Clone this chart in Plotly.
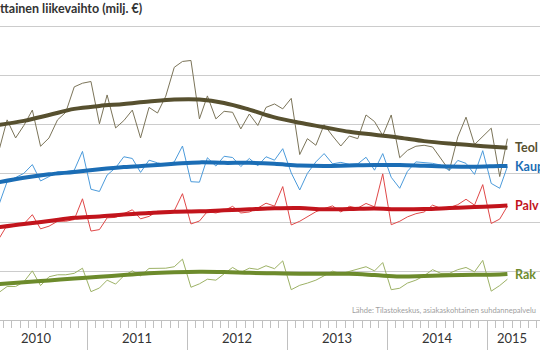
import plotly.graph_objects as go
import pandas as pd

# Monthly data Feb 2010 .. Mar 2015 (milj. €)
months = pd.date_range("2010-02-01", periods=62, freq="MS") + pd.Timedelta(days=14)

teol = [7010, 8190, 7450, 7960, 8590, 7110, 7450, 8190, 8500, 9540, 9690, 9760,
        8030, 9210, 7860, 8160, 8590, 7450, 8700, 8470, 9160, 10340, 10580, 10620,
        8230, 9170, 8230, 8540, 8500, 7820, 8430, 7960, 8700, 8840, 8640, 9070,
        6770, 7420, 7150, 7990, 7530, 7120, 7530, 7420, 8390, 8120, 7550, 8390,
        6640, 6940, 7110, 7150, 7080, 6610, 6120, 7490, 8300, 7180, 7490, 7850,
        5870, 7420]
kaup = [4780, 5660, 5830, 6000, 6360, 5690, 5870, 6070, 6070, 6130, 6900, 5350,
        5260, 5930, 6230, 6680, 6610, 6040, 6540, 6430, 6360, 6470, 7120, 5660,
        5640, 6640, 6300, 6700, 6650, 6280, 6610, 6310, 6680, 6540, 7010, 6020,
        5320, 6000, 6470, 6810, 6390, 6450, 6370, 6390, 6660, 6130, 6810, 5840,
        5390, 6080, 6470, 6450, 6410, 6340, 6120, 6530, 6410, 5960, 6930, 5590,
        5390, 6280]
palv = [3360, 3880, 3900, 3930, 4310, 3730, 3840, 4040, 4040, 4110, 4960, 3640,
        3700, 4180, 4200, 4340, 4510, 4140, 4240, 4450, 4470, 4470, 5170, 3930,
        4050, 4440, 4380, 4480, 4650, 4380, 4420, 4580, 4780, 4660, 5460, 3890,
        4040, 4220, 4430, 4560, 4670, 4420, 4650, 4580, 4770, 4630, 5980, 3900,
        4040, 4220, 4350, 4420, 4700, 4570, 4600, 4720, 4940, 4700, 5540, 3950,
        4130, 4660]
rak = [1140, 1370, 1370, 1560, 2010, 1410, 1770, 1850, 1850, 1910, 2120, 1160,
       1310, 1630, 1470, 1810, 2010, 1810, 2110, 2110, 2120, 2180, 2490, 1340,
       1480, 1670, 1630, 1890, 2150, 1950, 2120, 2070, 2220, 2100, 2420, 1240,
       1420, 1510, 1630, 1810, 2000, 1890, 1980, 2100, 2180, 2010, 2350, 1240,
       1300, 1510, 1630, 1810, 2060, 1910, 1910, 2060, 2150, 1970, 2440, 1180,
       1410, 1670]

# Trend series (read at quarterly points)
trend_months = ["2010-02-15", "2010-05-15", "2010-08-15", "2010-11-15",
                "2011-02-15", "2011-05-15", "2011-08-15", "2011-11-15",
                "2012-02-15", "2012-05-15", "2012-08-15", "2012-11-15",
                "2013-02-15", "2013-05-15", "2013-08-15", "2013-11-15",
                "2014-02-15", "2014-05-15", "2014-08-15", "2014-11-15",
                "2015-02-15", "2015-03-15"]
teol_tr = [7990, 8150, 8390, 8640, 8760, 8840, 8940, 9020, 9020, 8880, 8610,
           8290, 8070, 7890, 7700, 7580, 7460, 7320, 7220, 7140, 7070, 7050]
kaup_tr = [5640, 5820, 5960, 6060, 6170, 6260, 6320, 6390, 6450, 6430, 6430,
           6390, 6320, 6300, 6320, 6340, 6340, 6310, 6280, 6270, 6300, 6300]
palv_tr = [3800, 3930, 4050, 4180, 4240, 4320, 4380, 4430, 4450, 4490, 4530,
           4570, 4580, 4530, 4540, 4560, 4530, 4540, 4580, 4620, 4670, 4690]
rak_tr = [1470, 1540, 1620, 1700, 1770, 1840, 1910, 1950, 1970, 1960, 1930,
          1910, 1890, 1890, 1890, 1840, 1780, 1800, 1830, 1850, 1860, 1880]

names = ["Teol", "Kaup", "Palv", "Rak"]
thin_colors = ["#7b7459", "#4c9bdb", "#e04848", "#9db266"]
thick_colors = ["#57502f", "#1b6db5", "#c2141c", "#6d8b2c"]

year_labels = ["2010", "2011", "2012", "2013", "2014", "2015"]
year_label_pos = ["2010-07-02", "2011-07-02", "2012-07-02", "2013-07-02",
                  "2014-07-02", "2015-04-02"]
year_ticks = ["2010-01-01", "2011-01-01", "2012-01-01", "2013-01-01",
              "2014-01-01", "2015-01-01"]
grid_vals = [2000, 4000, 6000, 8000, 10000, 12000]

fig = go.Figure()
series = [teol, kaup, palv, rak]
trends = [teol_tr, kaup_tr, palv_tr, rak_tr]
for s, c in zip(series, thin_colors):
    fig.add_trace(go.Scatter(x=months, y=s, mode="lines",
                             line=dict(color=c, width=1), hoverinfo="skip"))
for s, c in zip(trends, thick_colors):
    fig.add_trace(go.Scatter(x=trend_months, y=s, mode="lines",
                             line=dict(color=c, width=4, shape="spline", smoothing=1.0),
                             hoverinfo="skip"))

font_family = "Lato, 'Open Sans', sans-serif"
annotations = []
for n, s, c in zip(names, trends, thick_colors):
    annotations.append(dict(x=trend_months[-1], y=s[-1], xref="x", yref="y",
                            text="<b>" + n + "</b>", showarrow=False,
                            xanchor="left", yanchor="middle", xshift=6,
                            font=dict(family=font_family, size=12.5, color=c)))
for lab, pos in zip(year_labels, year_label_pos):
    annotations.append(dict(x=pos, y=0, xref="x", yref="paper", text=lab,
                            showarrow=False, xanchor="center", yanchor="middle",
                            yshift=-18,
                            font=dict(family=font_family, size=13, color="#333333")))
annotations.append(dict(x=0, y=1, xref="paper", yref="paper",
                        text="<b>ttainen liikevaihto (milj. €)</b>", showarrow=False,
                        xanchor="left", yanchor="top", yshift=1, xshift=-2,
                        font=dict(family=font_family, size=12.5, color="#333333")))
annotations.append(dict(x=0.9963, y=10 / 323, xref="paper", yref="paper",
                        text="Lähde: Tilastokeskus, asiakaskohtainen suhdannepalvelu",
                        showarrow=False, xanchor="right", yanchor="middle",
                        font=dict(family=font_family, size=7.5, color="#a0a0a0")))

fig.update_layout(
    width=540, height=350,
    margin=dict(l=0, r=0, t=0, b=27),
    paper_bgcolor="white", plot_bgcolor="white",
    showlegend=False,
    annotations=annotations,
    xaxis=dict(type="date", range=["2010-02-17", "2015-07-12"],
               tickvals=year_ticks, showticklabels=False,
               ticks="outside", ticklen=30, tickcolor="#c0c0c0", tickwidth=1,
               showgrid=False, showline=True, linecolor="#c0c0c0", linewidth=1,
               zeroline=False,
               minor=dict(ticks="outside", ticklen=7, dtick="M1",
                          tick0="2010-01-01", tickcolor="#c0c0c0", tickwidth=1,
                          showgrid=False)),
    yaxis=dict(range=[0, 13095], tickvals=grid_vals, showticklabels=False,
               showgrid=True, gridcolor="#cccccc", gridwidth=1, zeroline=False,
               ticks=""),
)

fig.write_html("out.html")
